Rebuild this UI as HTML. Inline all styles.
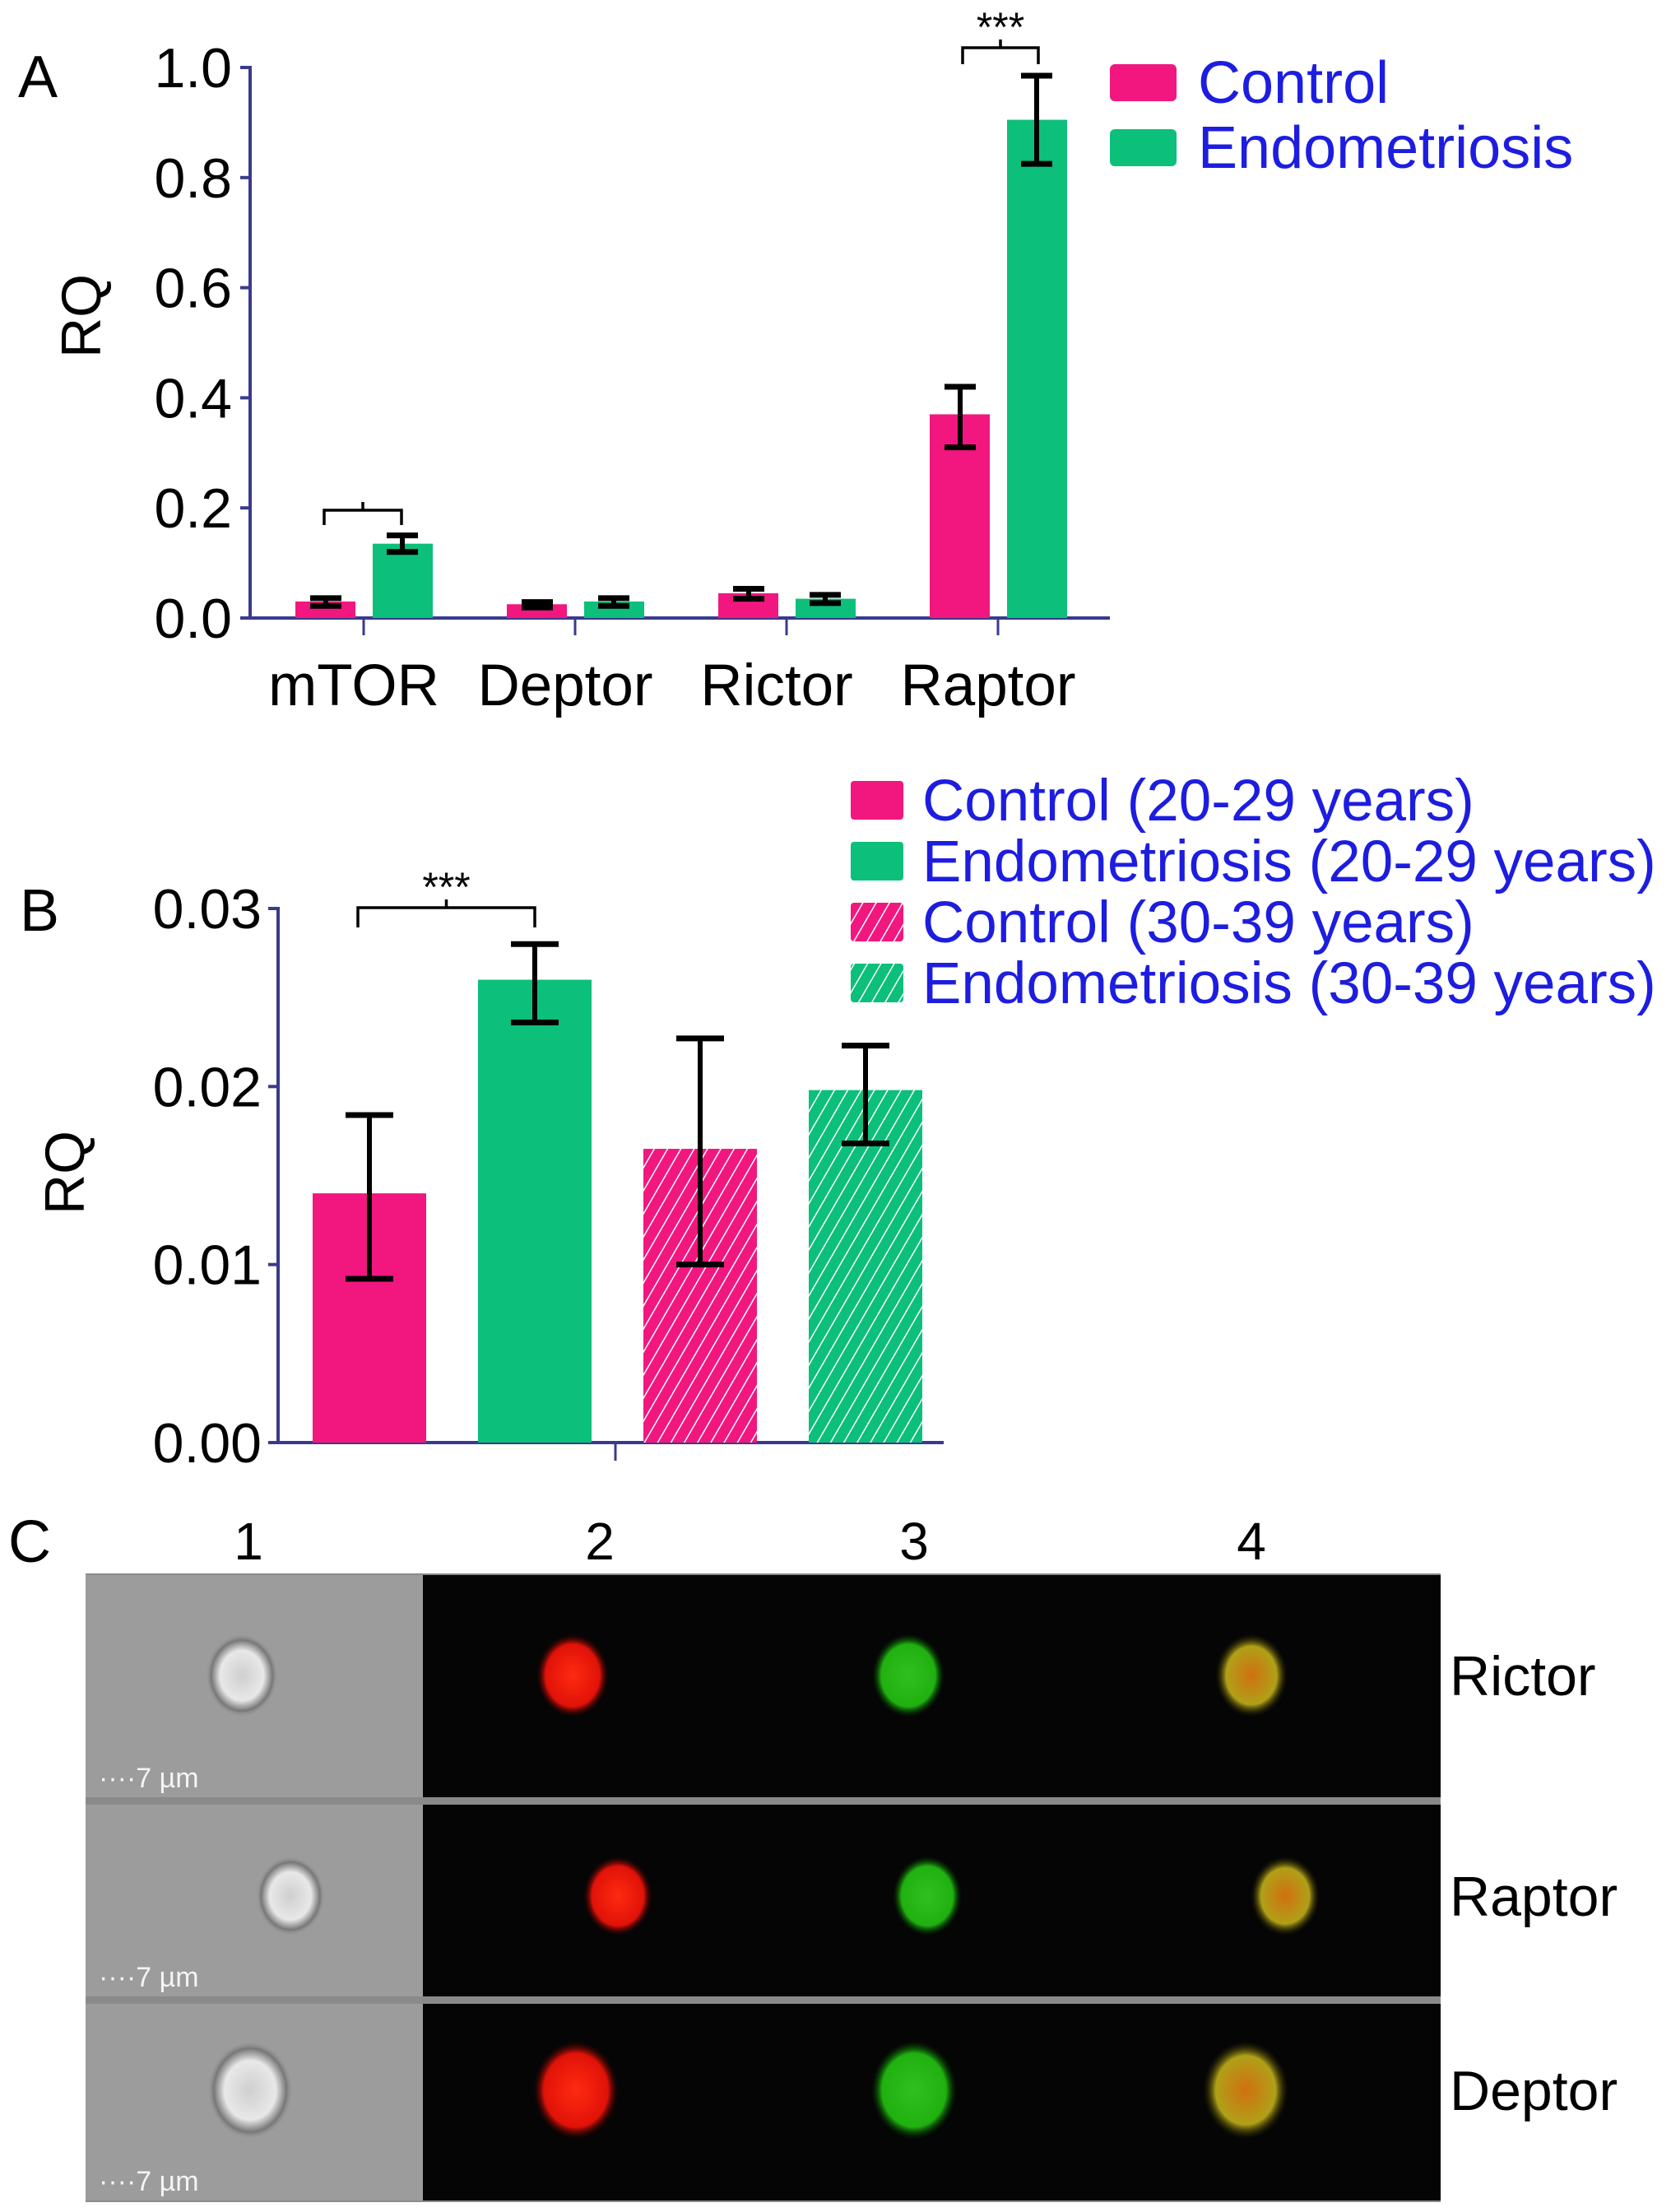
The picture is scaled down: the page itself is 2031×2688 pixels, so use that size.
<!DOCTYPE html>
<html><head><meta charset="utf-8"><style>
html,body{margin:0;padding:0;background:#fff;}
svg{display:block;font-family:"Liberation Sans",Arial,sans-serif;}
</style></head><body>
<svg id="fig" width="2031" height="2688" viewBox="0 0 2031 2688" xmlns="http://www.w3.org/2000/svg">
<defs>
<pattern id="hatchPink" patternUnits="userSpaceOnUse" width="14" height="14" patternTransform="rotate(30)">
<rect width="14" height="14" fill="#f2177f"/><line x1="0" y1="0" x2="0" y2="14" stroke="#fff" stroke-width="3"/></pattern>
<pattern id="hatchGreen" patternUnits="userSpaceOnUse" width="14" height="14" patternTransform="rotate(30)">
<rect width="14" height="14" fill="#0cbf7b"/><line x1="0" y1="0" x2="0" y2="14" stroke="#fff" stroke-width="3"/></pattern>
<radialGradient id="gRed"><stop offset="0" stop-color="#ff2a10"/><stop offset="0.75" stop-color="#e01208"/><stop offset="1" stop-color="#300" stop-opacity="0"/></radialGradient>
<radialGradient id="gGreen"><stop offset="0" stop-color="#30c020"/><stop offset="0.75" stop-color="#20b010"/><stop offset="1" stop-color="#030" stop-opacity="0"/></radialGradient>
<radialGradient id="gMerge"><stop offset="0" stop-color="#d07010"/><stop offset="0.7" stop-color="#b0a018"/><stop offset="1" stop-color="#220" stop-opacity="0"/></radialGradient>
<radialGradient id="gCell"><stop offset="0" stop-color="#cfcfcf"/><stop offset="0.6" stop-color="#e8e8e8"/><stop offset="0.85" stop-color="#777"/><stop offset="1" stop-color="#9c9c9c" stop-opacity="0"/></radialGradient>
</defs>
<g id="panelA"></g>
<g id="panelB"></g>
<g id="panelC"></g>
</svg>
<script>
// ---- Panel A data ----
const catsA = ["mTOR","Deptor","Rictor","Raptor"];
const ctrlA = [0.03,0.025,0.045,0.37];
const ctrlALo = [0.022,0.019,0.035,0.31];
const ctrlAHi = [0.036,0.029,0.053,0.42];
const endoA = [0.135,0.03,0.035,0.905];
const endoALo = [0.12,0.022,0.027,0.825];
const endoAHi = [0.15,0.036,0.042,0.985];
const ticksA = ["0.0","0.2","0.4","0.6","0.8","1.0"];
const tickValsA = [0,0.2,0.4,0.6,0.8,1.0];
// ---- Panel B data ----
const groupsB = ["Control (20-29 years)","Endometriosis (20-29 years)","Control (30-39 years)","Endometriosis (30-39 years)"];
const valsB = [0.014,0.026,0.0165,0.0198];
const loB = [0.0092,0.0236,0.010,0.0168];
const hiB = [0.0184,0.028,0.0227,0.0223];
const ticksB = ["0.00","0.01","0.02","0.03"];
const tickValsB = [0,0.01,0.02,0.03];

const NS="http://www.w3.org/2000/svg";
function mk(parent,tag,attrs,text){const e=document.createElementNS(NS,tag);for(const k in attrs)e.setAttribute(k,attrs[k]);if(text!==undefined)e.textContent=text;parent.appendChild(e);return e;}
const PINK="#f2177f",GREEN="#0cbf7b",AXIS="#3a3a8c",BLUE="#1d1de0";

// ===== Panel A =====
const A=document.getElementById('panelA');
const yA=v=>751-(v/1.0)*(751-82);
const xA=i=>442+i*257;
let t=mk(A,'text',{x:22,y:118,'font-size':72},'A');


let ax=mk(A,'line',{x1:304,y1:80,x2:304,y2:753,stroke:AXIS,'stroke-width':4});


ax=mk(A,'line',{x1:302,y1:751,x2:1349,y2:751,stroke:AXIS,'stroke-width':4});


tickValsA.forEach((v,i)=>{
  mk(A,'line',{x1:292,y1:yA(v),x2:304,y2:yA(v),stroke:AXIS,'stroke-width':4});
  const l=mk(A,'text',{x:282,y:yA(v)+24,'font-size':68,'text-anchor':'end'},ticksA[i]);
  
  
});
let rq=mk(A,'text',{x:0,y:0,'font-size':68,'text-anchor':'middle',transform:'translate(122,384) rotate(-90)'},'RQ');


function errbar(g,x,lo,hi,cap,yf){
  mk(g,'line',{x1:x,y1:yf(lo),x2:x,y2:yf(hi),stroke:'#000','stroke-width':6});
  mk(g,'line',{x1:x-cap/2,y1:yf(lo),x2:x+cap/2,y2:yf(lo),stroke:'#000','stroke-width':7});
  mk(g,'line',{x1:x-cap/2,y1:yf(hi),x2:x+cap/2,y2:yf(hi),stroke:'#000','stroke-width':7});
}
catsA.forEach((c,i)=>{
  const cx=xA(i);
  mk(A,'line',{x1:cx,y1:751,x2:cx,y2:772,stroke:AXIS,'stroke-width':3});
  let b=mk(A,'rect',{x:cx-83,y:yA(ctrlA[i]),width:73,height:751-yA(ctrlA[i]),fill:PINK});
  
  
  b=mk(A,'rect',{x:cx+11,y:yA(endoA[i]),width:73,height:751-yA(endoA[i]),fill:GREEN});
  
  
  errbar(A,cx-46,ctrlALo[i],ctrlAHi[i],38,yA);
  errbar(A,cx+47,endoALo[i],endoAHi[i],38,yA);
  const l=mk(A,'text',{x:cx-12,y:857,'font-size':71,'text-anchor':'middle'},c);
  
  
});
function bracket(g,x1,x2,ytop,drop,stars,fs){
  mk(g,'path',{d:`M${x1},${ytop+drop} L${x1},${ytop} L${x2},${ytop} L${x2},${ytop+drop} M${(x1+x2)/2},${ytop} L${(x1+x2)/2},${ytop-10}`,fill:'none',stroke:'#000','stroke-width':3.5});
  if(stars){const s=mk(g,'text',{x:(x1+x2)/2,y:ytop-8,'font-size':fs,'text-anchor':'middle'},stars);
    
    }
}
bracket(A,394,488,620,18,'',50);
bracket(A,1170,1262,58,20,'***',50);
[[PINK,'Control',100],[GREEN,'Endometriosis',179]].forEach(([col,lab,cy])=>{
  let r=mk(A,'rect',{x:1349,y:cy-22,width:81,height:45,rx:6,fill:col});
  
  
  let tx=mk(A,'text',{x:1456,y:cy+25,'font-size':72,fill:BLUE},lab);
  
  
});

// ===== Panel B =====
const B=document.getElementById('panelB');
const yB=v=>1753-(v/0.03)*(1753-1104);
const xB=i=>380+i*201;
t=mk(B,'text',{x:24,y:1131,'font-size':72},'B');


ax=mk(B,'line',{x1:338,y1:1102,x2:338,y2:1755,stroke:AXIS,'stroke-width':4});


ax=mk(B,'line',{x1:336,y1:1753,x2:1147,y2:1753,stroke:AXIS,'stroke-width':4});


mk(B,'line',{x1:748,y1:1753,x2:748,y2:1775,stroke:AXIS,'stroke-width':3});
tickValsB.forEach((v,i)=>{
  mk(B,'line',{x1:326,y1:yB(v),x2:338,y2:yB(v),stroke:AXIS,'stroke-width':4});
  const l=mk(B,'text',{x:318,y:yB(v)+24,'font-size':68,'text-anchor':'end'},ticksB[i]);
  
  
});
rq=mk(B,'text',{x:0,y:0,'font-size':68,'text-anchor':'middle',transform:'translate(102,1425) rotate(-90)'},'RQ');


const fillsB=[PINK,GREEN,'url(#hatchPink)','url(#hatchGreen)'];
valsB.forEach((v,i)=>{
  const x=xB(i);
  const b=mk(B,'rect',{x:x,y:yB(v),width:138,height:1753-yB(v),fill:fillsB[i]});
  
  
  errbar(B,x+69,loB[i],hiB[i],58,yB);
});
bracket(B,435,650,1103,24,'***',50);
const swB=[PINK,GREEN,'url(#hatchPink)','url(#hatchGreen)'];
groupsB.forEach((g,i)=>{
  const cy=972+i*74;
  let r=mk(B,'rect',{x:1034,y:cy-23,width:64,height:47,rx:4,fill:swB[i]});
  
  
  let tx=mk(B,'text',{x:1121,y:cy+25,'font-size':71,fill:BLUE},g);
  
  
});

// ===== Panel C =====
const C=document.getElementById('panelC');
t=mk(C,'text',{x:10,y:1898,'font-size':72},'C');


[["1",302],["2",729],["3",1111],["4",1521]].forEach(([n,x])=>{
  const l=mk(C,'text',{x:x,y:1895,'font-size':64,'text-anchor':'middle'},n);
  
  
});
const rows=[["Rictor",1914,2184,2036,[294,696,1104,1521],44],["Raptor",2193,2426,2304,[353,751,1127,1562],42],["Deptor",2435,2674,2540,[304,700,1111,1514],52]];
mk(C,'rect',{x:104,y:1912,width:1647,height:764,fill:'#8a8a8a'});
rows.forEach(([lab,y1,y2,cy,xs,r])=>{
  let g=mk(C,'rect',{x:104,y:y1,width:410,height:y2-y1,fill:'#9c9c9c'});
  
  
  g=mk(C,'rect',{x:514,y:y1,width:1237,height:y2-y1,fill:'#050505'});
  
  
  mk(C,'ellipse',{cx:xs[0],cy:cy,rx:r,ry:r*1.15,fill:'url(#gCell)'});
  mk(C,'ellipse',{cx:xs[1],cy:cy,rx:r,ry:r*1.15,fill:'url(#gRed)'});
  mk(C,'ellipse',{cx:xs[2],cy:cy,rx:r,ry:r*1.15,fill:'url(#gGreen)'});
  mk(C,'ellipse',{cx:xs[3],cy:cy,rx:r,ry:r*1.15,fill:'url(#gMerge)'});
  const sb=mk(C,'text',{x:120,y:y2-12,'font-size':34,fill:'#f4f4f4'},'\u00b7\u00b7\u00b7\u00b77 \u00b5m');
  
  
  const l=mk(C,'text',{x:1762,y:cy+24,'font-size':68},lab);
  
  
});
</script>
</body></html>
